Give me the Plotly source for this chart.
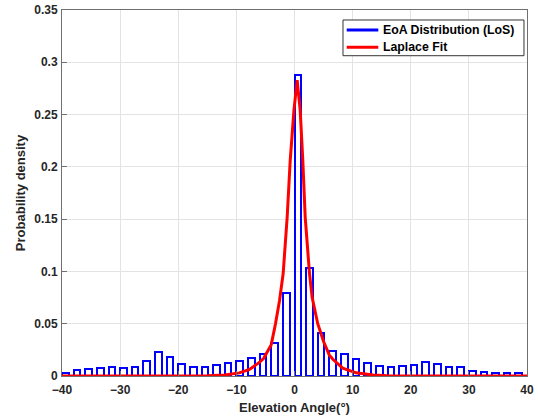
import plotly.graph_objects as go

# Histogram bins (left edges, degrees) and densities
bin_left = [-40, -38, -36, -34, -32, -30, -28, -26, -24, -22,
            -20, -18, -16, -14, -12, -10, -8, -6, -4, -2,
            0, 2, 4, 6, 8, 10, 12, 14, 16, 18,
            20, 22, 24, 26, 28, 30, 32, 34, 36, 38]
density = [0.0032, 0.0054, 0.0066, 0.0076, 0.0085, 0.0079, 0.0085, 0.0145, 0.0234, 0.018,
           0.0117, 0.0088, 0.0085, 0.011, 0.0126, 0.0139, 0.0174, 0.0212, 0.032, 0.079,
           0.288, 0.103, 0.041, 0.0243, 0.0212, 0.0167, 0.0126, 0.0098, 0.0088, 0.0095,
           0.0104, 0.0133, 0.0117, 0.0088, 0.0082, 0.0051, 0.0041, 0.0032, 0.0032, 0.0025]

# Laplace fit curve
fit_x = [-40, -20, -15, -12, -9.5, -7.75, -6, -5.3, -4.0, -3.27, -2.58, -1.95, -1.26, -0.74, -0.1,
         0.46, 0.98, 1.43, 1.84, 2.58, 3.04, 4.0, 5.0, 6.0, 6.6, 8.3, 10.6, 13.5, 16, 20, 40]
fit_y = [0.0, 0.0001, 0.0003, 0.001, 0.003, 0.0062, 0.0132, 0.017, 0.03, 0.05, 0.072, 0.098, 0.152, 0.206, 0.254,
         0.283, 0.254, 0.206, 0.152, 0.098, 0.075, 0.05, 0.033, 0.02, 0.016, 0.0075, 0.003, 0.001, 0.0003, 0.0001, 0.0]

x_ticks = [-40, -30, -20, -10, 0, 10, 20, 30, 40]
y_ticks = [0, 0.05, 0.1, 0.15, 0.2, 0.25, 0.3, 0.35]
y_tick_text = ["0", "0.05", "0.1", "0.15", "0.2", "0.25", "0.3", "0.35"]
legend_names = ["EoA Distribution (LoS)", "Laplace Fit"]

BLUE = "#0000ff"
RED = "#ff0000"
FONT = "Liberation Sans"
AX = "#707070"

fig = go.Figure()
fig.add_trace(go.Bar(x=bin_left, y=density, width=1.15, offset=0, name=legend_names[0],
                     marker=dict(color="rgba(0,0,0,0)", line=dict(color=BLUE, width=2)),
                     showlegend=False))
fig.add_trace(go.Scatter(x=fit_x, y=fit_y, mode="lines", name=legend_names[1],
                         line=dict(color=RED, width=3), showlegend=False))

axis_common = dict(showgrid=True, gridcolor="#e3e3e3", gridwidth=1,
                   showline=True, linecolor=AX, linewidth=1, mirror=True,
                   ticks="inside", ticklen=5, tickcolor=AX, zeroline=False,
                   automargin=False,
                   tickfont=dict(family=FONT, size=12, color="#262626", weight="bold"))

# MATLAB-style legend box drawn in the plot-area (domain) frame
lg_box = dict(x0=0.6043, x1=0.9935, y0=0.8751, y1=0.9727)
lg_line_x = (0.6123, 0.6802)
lg_rows_y = [0.9454, 0.8981]
lg_colors = [BLUE, RED]

shapes = [dict(type="rect", xref="x domain", yref="y domain", **lg_box,
               line=dict(color="#333", width=1), fillcolor="white", layer="above")]
annotations = []
for name, yy, col in zip(legend_names, lg_rows_y, lg_colors):
    shapes.append(dict(type="line", xref="x domain", yref="y domain",
                       x0=lg_line_x[0], x1=lg_line_x[1], y0=yy, y1=yy,
                       line=dict(color=col, width=3), layer="above"))
    annotations.append(dict(text=name, xref="x domain", yref="y domain",
                            x=lg_line_x[1] + 0.006, y=yy, xanchor="left", yanchor="middle",
                            showarrow=False,
                            font=dict(family=FONT, size=12.3, color="#000", weight="bold")))

fig.update_layout(
    width=538, height=420,
    margin=dict(l=62, r=11, t=10, b=44),
    paper_bgcolor="white", plot_bgcolor="white",
    bargap=0, showlegend=False,
    shapes=shapes, annotations=annotations,
    xaxis=dict(range=[-40, 40], tickvals=x_ticks, ticklabelstandoff=3,
               title=dict(text="Elevation Angle(°)", standoff=6,
                          font=dict(family=FONT, size=13, color="#262626", weight="bold")),
               **axis_common),
    yaxis=dict(range=[0, 0.35], tickvals=y_ticks, ticktext=y_tick_text, ticklabelstandoff=1,
               title=dict(text="Probability density", standoff=5,
                          font=dict(family=FONT, size=13, color="#262626", weight="bold")),
               **axis_common),
)

fig.write_html("out.html")
